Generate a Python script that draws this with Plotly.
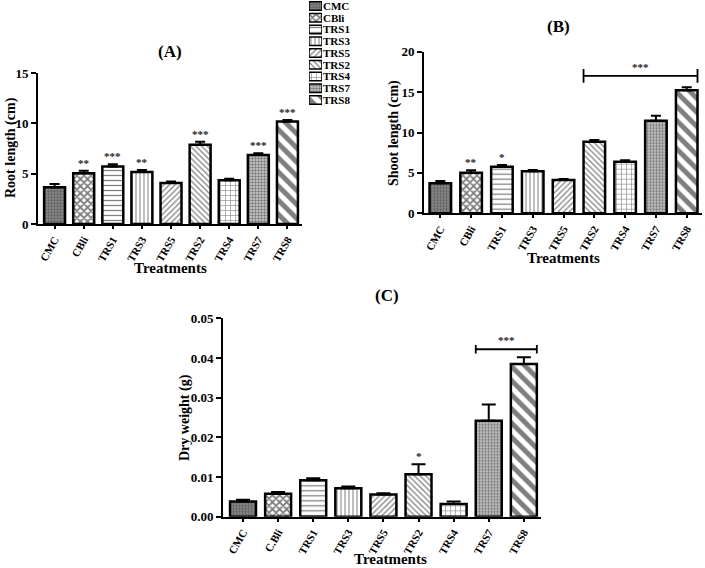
import plotly.graph_objects as go

# ---------------- data ----------------
categories = ["CMC", "CBli", "TRS1", "TRS3", "TRS5", "TRS2", "TRS4", "TRS7", "TRS8"]
ticks_ab = ["CMC", "CBli", "TRS1", "TRS3", "TRS5", "TRS2", "TRS4", "TRS7", "TRS8"]
ticks_c = ["CMC", "C.Bli", "TRS1", "TRS3", "TRS5", "TRS2", "TRS4", "TRS7", "TRS8"]

root_length = [3.65, 5.03, 5.72, 5.17, 4.07, 7.88, 4.34, 6.85, 10.17]
root_err = [0.33, 0.27, 0.22, 0.19, 0.15, 0.30, 0.16, 0.17, 0.16]
root_sig = ["", "**", "***", "**", "", "***", "", "***", "***"]

shoot_length = [3.71, 5.03, 5.77, 5.20, 4.12, 8.87, 6.39, 11.46, 15.22]
shoot_err = [0.30, 0.29, 0.21, 0.16, 0.12, 0.20, 0.17, 0.62, 0.37]
shoot_sig = ["", "**", "*", "", "", "", "", "", ""]
shoot_bracket = ("TRS2", "TRS8", 17.0, "***")

dry_weight = [0.0038, 0.0058, 0.0092, 0.0072, 0.0056, 0.0107, 0.0032, 0.0242, 0.0385]
dry_err = [0.0005, 0.0004, 0.0005, 0.0004, 0.0003, 0.0025, 0.0006, 0.0041, 0.0017]
dry_sig = ["", "", "", "", "", "*", "", "", ""]
dry_bracket = ("TRS7", "TRS8", 0.0422, "***")

# ---------------- styles ----------------
FONT = "Liberation Serif"
patterns = {
    "CMC": dict(shape=".", size=3, solidity=0.45, fgcolor="#333333", bgcolor="#8a8a8a"),
    "CBli": dict(shape="x", size=5, solidity=0.6, fgcolor="black", bgcolor="white"),
    "TRS1": dict(shape="-", size=5, solidity=0.25, fgcolor="black", bgcolor="white"),
    "TRS3": dict(shape="|", size=4, solidity=0.25, fgcolor="black", bgcolor="white"),
    "TRS5": dict(shape="/", size=4, solidity=0.3, fgcolor="black", bgcolor="white"),
    "TRS2": dict(shape="\\", size=4, solidity=0.3, fgcolor="black", bgcolor="white"),
    "TRS4": dict(shape="+", size=5, solidity=0.22, fgcolor="black", bgcolor="white"),
    "TRS7": dict(shape=".", size=3, solidity=0.5, fgcolor="#222222", bgcolor="#cfcfcf"),
    "TRS8": dict(shape="\\", size=10, solidity=0.5, fgcolor="black", bgcolor="white"),
}

W, H = 705, 568
TICK_ANGLE = -60


def px_x(p):
    return p / W


def px_y(p):
    return 1 - p / H


panels = [
    # values, errors, significance, x axis, y axis, bar width, cap width
    (root_length, root_err, root_sig, "x", "y", 0.72, 5),
    (shoot_length, shoot_err, shoot_sig, "x2", "y2", 0.70, 5),
    (dry_weight, dry_err, dry_sig, "x3", "y3", 0.74, 7),
]

fig = go.Figure()
annotations = []
shapes = []
sig_font = dict(family=FONT, size=11, color="#222222", weight="bold")
xtickfont = dict(family=FONT, size=11, color="black", weight="bold")

for vals, errs, sigs, xa, ya, bw, cap in panels:
    for i, cat in enumerate(categories):
        fig.add_trace(go.Bar(
            x=[i], y=[vals[i]], width=bw, xaxis=xa, yaxis=ya,
            marker=dict(color="white", pattern=patterns[cat],
                        line=dict(color="black", width=2.5)),
            error_y=dict(type="data", array=[errs[i]], arrayminus=[0], symmetric=False,
                         color="black", thickness=2, width=cap),
            showlegend=False, hoverinfo="skip",
        ))
        if sigs[i]:
            annotations.append(dict(
                x=i, y=vals[i] + errs[i], xref=xa, yref=ya, text=sigs[i],
                showarrow=False, yanchor="bottom", yshift=0, font=sig_font))

for (c0, c1, lvl, txt), xa, ya, bw, tick in [
        (shoot_bracket, "x2", "y2", 0.70, 0.85),
        (dry_bracket, "x3", "y3", 0.74, 0.0011)]:
    i0 = categories.index(c0) - bw / 2
    i1 = categories.index(c1) + bw / 2
    line = dict(color="black", width=1.8)
    shapes.append(dict(type="line", xref=xa, yref=ya, x0=i0, x1=i1, y0=lvl, y1=lvl, line=line))
    for xx in (i0, i1):
        shapes.append(dict(type="line", xref=xa, yref=ya, x0=xx, x1=xx,
                           y0=lvl - tick, y1=lvl + tick, line=line))
    annotations.append(dict(x=(i0 + i1) / 2, y=lvl, xref=xa, yref=ya, text=txt,
                            showarrow=False, yanchor="bottom", yshift=1, font=sig_font))

# legend drawn as a tiny bar chart
for i, cat in enumerate(categories):
    fig.add_trace(go.Bar(
        x=[1], y=[i], orientation="h", width=0.72, xaxis="x4", yaxis="y4",
        marker=dict(color="white", pattern=patterns[cat], line=dict(color="black", width=1.5)),
        showlegend=False, hoverinfo="skip"))

tickfont = dict(family=FONT, size=13, color="black", weight="bold")


def xaxis(domain, rng, labels, anchor):
    return dict(domain=domain, range=rng, tickmode="array",
                tickvals=list(range(len(labels))), ticktext=labels,
                tickangle=TICK_ANGLE, tickfont=xtickfont,
                showline=True, linewidth=2, linecolor="black",
                ticks="outside", ticklen=3, tickwidth=1.5, tickcolor="black",
                showgrid=False, zeroline=False, anchor=anchor)


def yaxis(domain, rng, dtick, fmt, anchor):
    return dict(domain=domain, range=rng, dtick=dtick, tickformat=fmt, showline=True,
                linewidth=2, linecolor="black", ticks="outside", ticklen=5, tickwidth=2,
                tickcolor="black", showgrid=False, zeroline=False, tickfont=tickfont,
                anchor=anchor)


n = len(categories)
fig.update_layout(
    width=W, height=H, margin=dict(l=0, r=0, t=0, b=0, autoexpand=False),
    paper_bgcolor="white", plot_bgcolor="white", barmode="overlay", showlegend=False,
    xaxis=xaxis([px_x(38), px_x(302)], [-0.57, 8.5], ticks_ab, "y"),
    yaxis=yaxis([px_y(224), px_y(73)], [0, 15], 5, "d", "x"),
    xaxis2=xaxis([px_x(424), px_x(701.5)], [-0.53, 8.48], ticks_ab, "y2"),
    yaxis2=yaxis([px_y(213.3), px_y(51.7)], [0, 20], 5, "d", "x2"),
    xaxis3=xaxis([px_x(223), px_x(541.4)], [-0.57, 8.5], ticks_c, "y3"),
    yaxis3=yaxis([px_y(516.7), px_y(318.3)], [0, 0.05], 0.01, ".2f", "x3"),
    xaxis4=dict(domain=[px_x(309), px_x(322)], range=[0, 1], visible=False, anchor="y4"),
    yaxis4=dict(domain=[px_y(106), px_y(0)], range=[8.5, -0.5], side="right",
                tickvals=list(range(n)), ticktext=categories,
                ticklabeloverflow="allow",
                showline=False, showgrid=False, zeroline=False, ticks="",
                tickfont=dict(family=FONT, size=11, color="black", weight="bold"),
                anchor="x4"),
)

title_font = dict(family=FONT, size=17, color="black", weight="bold")
label_font = dict(family=FONT, size=15, color="black", weight="bold")
ylab_font = dict(family=FONT, size=14, color="black", weight="bold")

text_items = [
    ("(A)", 170, 52, 0, title_font),
    ("(B)", 558, 27, 0, title_font),
    ("(C)", 387, 295, 0, title_font),
    ("Treatments", 170, 268, 0, label_font),
    ("Treatments", 563, 258, 0, label_font),
    ("Treatments", 390, 559, 0, label_font),
    ("Root length (cm)", 11, 148, -90, ylab_font),
    ("Shoot length (cm)", 394, 133, -90, ylab_font),
    ("Dry weight (g)", 185, 418, -90, ylab_font),
]
for txt, xx, yy, ang, f in text_items:
    annotations.append(dict(text=txt, x=px_x(xx), y=px_y(yy), xref="paper", yref="paper",
                            showarrow=False, textangle=ang, font=f,
                            xanchor="center", yanchor="middle"))

fig.update_layout(annotations=annotations, shapes=shapes)
fig.write_html("out.html", config={"displayModeBar": False},
               post_script="document.body.style.margin='0px';")
